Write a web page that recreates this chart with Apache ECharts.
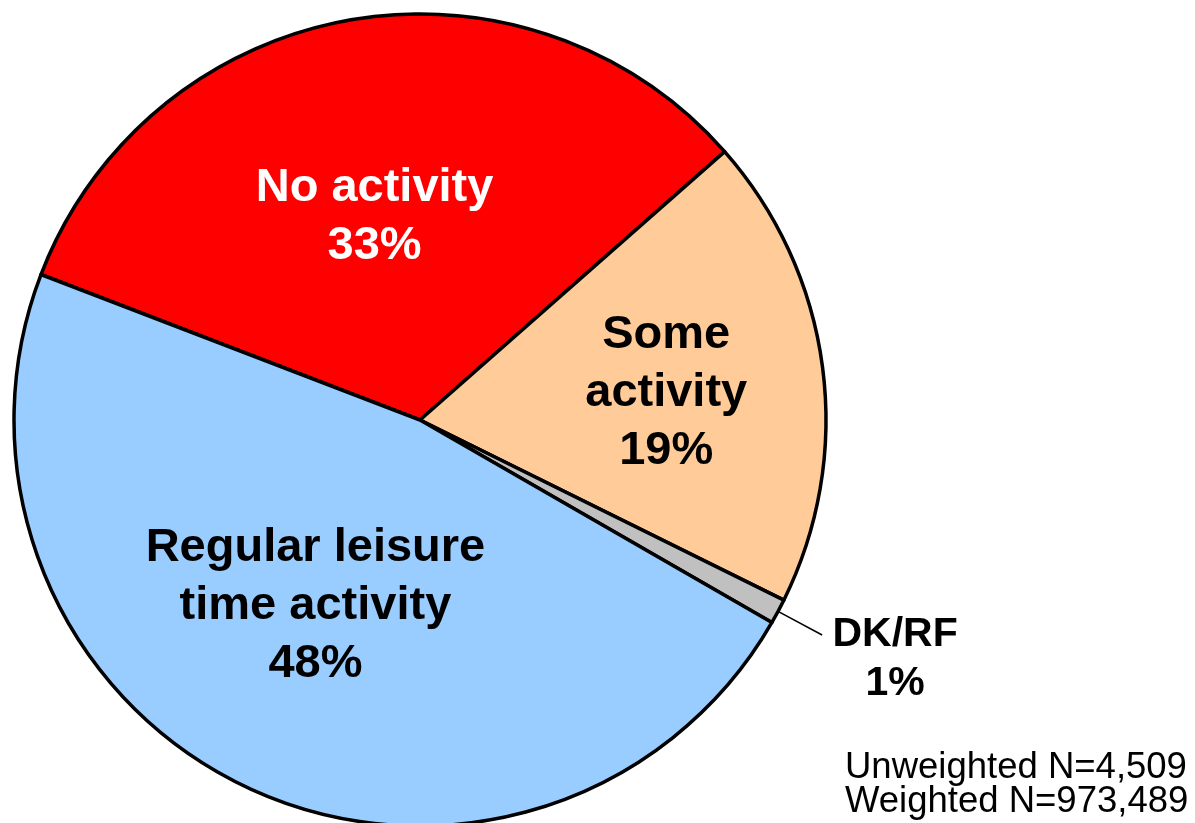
<!DOCTYPE html>
<html>
<head>
<meta charset="utf-8">
<title>Leisure time activity</title>
<script src="https://cdn.jsdelivr.net/npm/echarts@6/dist/echarts.min.js"></script>
<style>
  html, body { margin: 0; padding: 0; background: #ffffff; }
  #chart { width: 1195px; height: 823px; }
</style>
</head>
<body>
<div id="chart"></div>
<script>
// Activity categories and their shares (percent), drawn clockwise
const categories = ['No activity', 'Some activity', 'DK/RF', 'Regular leisure time activity'];
const labelLines = ['No activity', 'Some\nactivity', 'DK/RF', 'Regular leisure\ntime activity'];
const shares = [33, 19, 1, 48];
const sampleNotes = ['Unweighted N=4,509', 'Weighted N=973,489'];

// Styling for each slice
const sliceColors = ['#FF0000', '#FFCC99', '#C0C0C0', '#99CCFF'];
const labelColors = ['#FFFFFF', '#000000', '#000000', '#000000'];
// padding nudges each inside label block away from its default spot
const labelPadding = [
  [0, 18, 26, 0],
  [0, 0, 0, 84],
  0,
  [0, 32, 8, 0]
];

const FONT = '"Liberation Sans", Arial, Helvetica, sans-serif';

const data = categories.map((name, i) => {
  const isOutside = name === 'DK/RF';
  const label = isOutside
    ? {
        show: true,
        position: 'outside',
        // blank first line drops the two text lines below the leader line end
        formatter: '\n{c|' + labelLines[i] + '}\n{c|' + shares[i] + '%}',
        color: labelColors[i],
        lineHeight: 49,
        rich: {
          c: {
            width: 136,
            align: 'center',
            fontFamily: FONT,
            fontWeight: 'bold',
            fontSize: 41,
            lineHeight: 49,
            color: labelColors[i]
          }
        }
      }
    : {
        show: true,
        position: 'inside',
        formatter: labelLines[i] + '\n' + shares[i] + '%',
        color: labelColors[i],
        padding: labelPadding[i]
      };
  return {
    name: name,
    value: shares[i],
    itemStyle: { color: sliceColors[i] },
    label: label,
    labelLine: isOutside
      ? { show: true, length: 50, length2: 0, lineStyle: { color: '#000', width: 1.5 } }
      : { show: false }
  };
});

const chart = echarts.init(document.getElementById('chart'), null, { renderer: 'canvas' });
chart.setOption({
  backgroundColor: '#ffffff',
  animation: false,
  title: {
    text: sampleNotes.join('\n'),
    left: 840,
    top: 746,
    textStyle: {
      fontFamily: FONT,
      fontWeight: 'normal',
      fontSize: 36.5,
      lineHeight: 34,
      color: '#000000'
    }
  },
  series: [{
    type: 'pie',
    center: [420, 420],
    radius: [0, 406],
    startAngle: 159,
    clockwise: true,
    avoidLabelOverlap: false,
    silent: true,
    itemStyle: { borderColor: '#000000', borderWidth: 3.5 },
    label: {
      fontFamily: FONT,
      fontWeight: 'bold',
      fontSize: 47,
      lineHeight: 58,
      align: 'center'
    },
    emphasis: { disabled: true },
    data: data
  }]
});
</script>
</body>
</html>
